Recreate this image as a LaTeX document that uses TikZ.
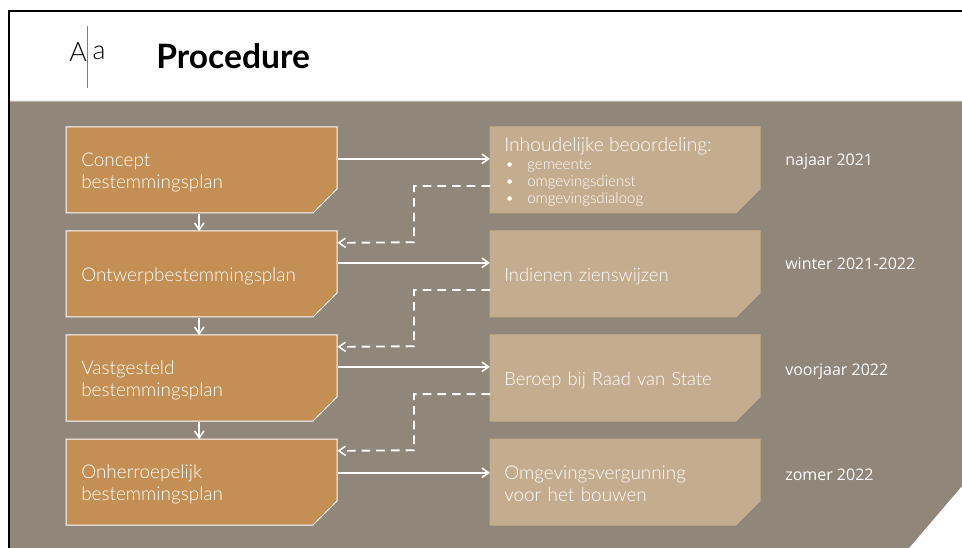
\documentclass[tikz,border=0pt]{standalone}
\usepackage{fontspec}
\setmainfont{Lato}
\newfontfamily\lightf{Lato Light}
\newfontfamily\datef{Open Sans}
\usetikzlibrary{arrows.meta,calc}
\definecolor{bggrey}{HTML}{908679}
\definecolor{ochre}{HTML}{C38F54}
\definecolor{sand}{HTML}{C4AC8E}
\newcommand{\notched}[5]{% x, y top, fill, draw, width
  \path[fill=#3,draw=#4,line width=0.75pt] (#1,#2) -- ++(#5,0) -- ++(0,62) -- ++(-24,24) -- ++(-#5+24,0) -- cycle;}
\tikzset{
  x=0.75pt,y=-0.75pt,
  boxtext/.style={anchor=north west,minimum width=203.25pt,minimum height=64.5pt,inner xsep=11.25pt,inner ysep=0pt,text width=180.75pt,align=left,text=white,font=\lightf\fontsize{14.2}{16.5}\selectfont},
  rtext/.style={boxtext,minimum width=202.5pt,inner xsep=10.5pt,text width=181.5pt},
  subtext/.style={anchor=base west,inner sep=0pt,text=white,font=\lightf\fontsize{11.3}{13}\selectfont},
  datetext/.style={anchor=west,text=white,inner sep=0pt,font=\datef\fontsize{12}{14}\selectfont},
  link/.style={white,line width=1.4pt,-{Straight Barb[length=5pt,width=7pt,line width=1.2pt]}},
  back/.style={link,dash pattern=on 6.5pt off 4.5pt},
}
\begin{document}
\begin{tikzpicture}
\useasboundingbox (0,0) rectangle (962,548);
\fill[white] (0,0) rectangle (962,548);
\fill[bggrey] (10,101) -- (962,101) -- (962,486) -- (909,548) -- (10,548) -- cycle;
\draw[black!20!bggrey!50!white,line width=0.7pt] (10,101) -- (962,101);
\draw[black,line width=1.9pt] (9,548) -- (9,11) -- (962,11);
% logo
\node[inner sep=0pt,anchor=center,font=\lightf\fontsize{20}{24}\selectfont] (logoA) at (78,52) {A};
\node[inner sep=0pt,anchor=center,font=\lightf\fontsize{20}{24}\selectfont] (logoa) at (99,53) {a};
\draw[black!50,line width=0.7pt] (87.5,26) -- (87.5,88);
\node[inner sep=0pt,anchor=west,font=\fontsize{25.2}{29}\selectfont\bfseries] (title) at (156,56) {Procedure};
% boxes
\notched{66}{127}{ochre}{white}{271}
\notched{66}{231}{ochre}{white}{271}
\notched{66}{335}{ochre}{white}{271}
\notched{66}{439}{ochre}{white}{271}
\notched{490}{127}{sand}{sand}{270}
\notched{490}{231}{sand}{sand}{270}
\notched{490}{335}{sand}{sand}{270}
\notched{490}{439}{sand}{sand}{270}
\node[boxtext,yshift=-1.5pt] (l1t) at (66,127) {Concept\\bestemmingsplan};
\node[boxtext,yshift=-1.5pt] (l2t) at (66,231) {Ontwerpbestemmingsplan};
\node[boxtext,yshift=-1.5pt] (l3t) at (66,335) {Vastgesteld\\bestemmingsplan};
\node[boxtext,yshift=-1.5pt] (l4t) at (66,439) {Onherroepelijk\\bestemmingsplan};
\node[boxtext] (l1) at (66,127) {};
\node[boxtext] (l2) at (66,231) {};
\node[boxtext] (l3) at (66,335) {};
\node[boxtext] (l4) at (66,439) {};
\node[rtext] (r1) at (490,127) {};
\node[anchor=west,inner sep=0pt,text=white,font=\lightf\fontsize{14.45}{17}\selectfont] (r1t) at (504,146) {Inhoudelijke beoordeling:};
\node[subtext] (r1a) at (527,169.5) {gemeente};
\node[subtext] (r1b) at (527,186.5) {omgevingsdienst};
\node[subtext] (r1c) at (527,203.5) {omgevingsdialoog};
\node[subtext] (b1) at (505,169.5) {•};
\node[subtext] (b2) at (505,186.5) {•};
\node[subtext] (b3) at (505,203.5) {•};
\node[rtext] (r2) at (490,231) {};
\node[rtext] (r3) at (490,335) {};
\node[rtext] (r4) at (490,439) {};
\node[rtext,yshift=-1.5pt,font=\lightf\fontsize{13.8}{16.5}\selectfont] (r2t) at (490,231) {Indienen zienswijzen};
\node[rtext,yshift=-1.5pt,font=\lightf\fontsize{13.8}{16.5}\selectfont] (r3t) at (490,335) {Beroep bij Raad van State};
\node[rtext,yshift=-1.5pt] (r4t) at (490,439) {Omgevingsvergunning\\voor het bouwen};
% dates
\node[datetext] (d1) at (785,162) {najaar 2021};
\node[datetext] (d2) at (785,264) {winter 2021-2022};
\node[datetext] (d3) at (785,372) {voorjaar 2022};
\node[datetext] (d4) at (785,475) {zomer 2022};
% connectors
\foreach \a/\b/\s in {l1/r1/8.6pt,l2/r2/8.6pt,l3/r3/8.6pt,l4/r4/7.1pt}{
  \draw[link] ([yshift=\s]\a.east) -- ([yshift=\s]\b.west);
}
\foreach \a/\b in {l1/l2,l2/l3,l3/l4}{
  \draw[link] ([xshift=-1.9pt]\a.south) -- ([xshift=-1.9pt]\b.north);
}
\foreach \a/\b in {r1/l2,r2/l3,r3/l4}{
  \coordinate (m\a) at ($(\a.west)+(-76,15.8)$);
  \draw[back] ([yshift=-11.85pt]\a.west) -- (m\a) -- (m\a |- {$(\b.east)+(0,-32)$}) -- ([yshift=23.6pt]\b.east);
}
\end{tikzpicture}
\end{document}
